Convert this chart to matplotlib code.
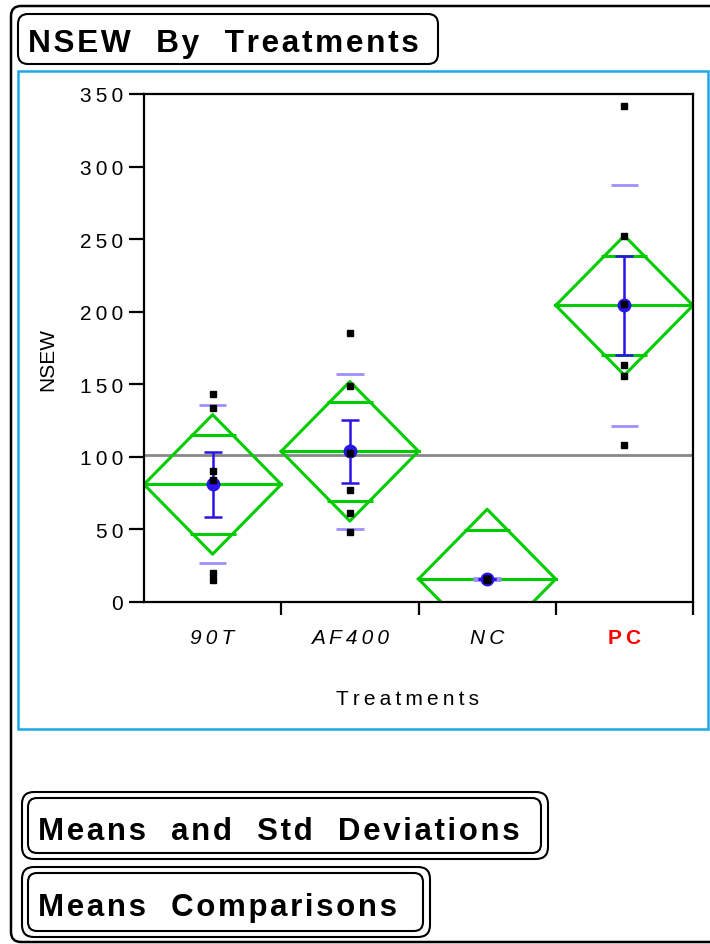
import numpy as np
import matplotlib
matplotlib.use('Agg')
import matplotlib.pyplot as plt
from matplotlib.patches import FancyBboxPatch, Rectangle

plt.rcParams['font.family'] = ['Liberation Sans', 'DejaVu Sans']

# data
treatments = ['90T', 'AF400', 'NC', 'PC']
nsew_90T = [143, 134, 90, 84, 20, 15]
nsew_AF400 = [185, 149, 103, 77, 61, 48]
nsew_NC = [15, 16, 16, 16, 16, 16]
nsew_PC = [342, 252, 205, 163, 156, 108]
groups = [nsew_90T, nsew_AF400, nsew_NC, nsew_PC]
yticks = [0, 50, 100, 150, 200, 250, 300, 350]

T_CRIT = 2.086  # t(0.975, 20 df) for the means diamonds

GREEN = '#00cc00'
BLUE = '#2a14e6'
PURPLE = '#9d8fff'
CYAN = '#1aa9e6'


def spaced(s, gap='\u2009'):
    return gap.join(s)


means = [np.mean(g) for g in groups]
sds = [np.std(g, ddof=1) for g in groups]
ns = [len(g) for g in groups]
ses = [s / np.sqrt(n) for s, n in zip(sds, ns)]
pooled = np.sqrt(sum((n - 1) * s ** 2 for s, n in zip(sds, ns)) / (sum(ns) - len(ns)))
grand = np.mean(np.concatenate(groups))

fig = plt.figure(figsize=(7.1, 9.45), dpi=100)

# page furniture drawn in pixel coordinates
bg = fig.add_axes([0, 0, 1, 1], zorder=0)
bg.set_xlim(0, 710)
bg.set_ylim(945, 0)
bg.axis('off')

bg.add_patch(FancyBboxPatch((11, 7), 760, 936, boxstyle='round,pad=0,rounding_size=10',
                            fill=False, ec='black', lw=1.8))
bg.add_patch(FancyBboxPatch((18, 15), 420, 50, boxstyle='round,pad=0,rounding_size=10',
                            fill=False, ec='black', lw=1.5))
bg.text(28, 44, spaced('NSEW  By  Treatments', '\u200a'), fontsize=22.8, weight='bold',
        va='center', ha='left')
bg.add_patch(Rectangle((18, 72), 690, 658, fill=False, ec=CYAN, lw=1.8))

for (x0, y0, w, h), label in [((22, 793, 526, 67), 'Means  and  Std  Deviations'),
                              ((22, 868, 408, 70), 'Means  Comparisons')]:
    bg.add_patch(FancyBboxPatch((x0, y0), w, h, boxstyle='round,pad=0,rounding_size=12',
                                fill=False, ec='black', lw=1.5))
    bg.add_patch(FancyBboxPatch((x0 + 6, y0 + 6), w - 13, h - 12, boxstyle='round,pad=0,rounding_size=9',
                                fill=False, ec='black', lw=1.5))
    bg.text(x0 + 16, y0 + h / 2 + 5, spaced(label, '\u200a'), fontsize=22.5, weight='bold',
            va='center', ha='left')

# main plot
ax = fig.add_axes([144 / 710, 1 - 603 / 945, 549 / 710, 508 / 945], zorder=1)
ax.axhline(grand, color='#888888', lw=2, zorder=1)

for i, vals in enumerate(groups):
    c = i + 0.5
    m = means[i]
    h = T_CRIT * pooled / np.sqrt(ns[i])
    ax.plot([c - 0.5, c, c + 0.5, c, c - 0.5], [m, m + h, m, m - h, m], color=GREEN, lw=2.2, zorder=2)
    ax.plot([c - 0.5, c + 0.5], [m, m], color=GREEN, lw=2.2, zorder=2)
    o = h / np.sqrt(2)
    ow = 0.5 * (1 - 1 / np.sqrt(2)) * 1.15
    ax.hlines([m + o, m - o], c - ow, c + ow, color=GREEN, lw=2.2, zorder=2)
    ax.hlines([m + sds[i], m - sds[i]], c - 0.1, c + 0.1, color=PURPLE, lw=2, zorder=3)
    ax.errorbar(c, m, yerr=ses[i], fmt='o', color=BLUE, ms=9, capsize=6.5,
                elinewidth=1.8, capthick=1.8, zorder=4)
    ax.plot([c] * len(vals), vals, 's', color='black', ms=3.8, zorder=5)

ax.set_xlim(0, 4)
ax.set_ylim(0, 350)
for sp in ax.spines.values():
    sp.set_linewidth(1.6)

ax.set_yticks(yticks)
ax.set_yticklabels([spaced(str(t)) for t in yticks])
ax.tick_params(axis='y', length=11, width=1.6, pad=4, labelsize=15)

ax.set_xticks([1, 2, 3, 4])
ax.set_xticklabels([])
ax.tick_params(axis='x', which='major', length=9, width=1.6)
ax.xaxis.get_major_ticks()[-1].tick1line.set_color('red')
ax.set_xticks([0.5, 1.5, 2.5, 3.5], minor=True)
ax.set_xticklabels([spaced(t) for t in treatments], minor=True, fontsize=15, style='italic')
ax.tick_params(axis='x', which='minor', length=0, pad=19)
pc = ax.get_xticklabels(minor=True)[-1]
pc.set_color('red')
pc.set_style('normal')
pc.set_weight('bold')

ax.set_xlabel(spaced('Treatments'), fontsize=15, va='center')
ax.xaxis.set_label_coords(0.48, -0.19)
ax.set_ylabel('NSEW', fontsize=15, va='center')
ax.yaxis.set_label_coords(-0.175, 0.48)

fig.savefig('out.png', dpi=100)
